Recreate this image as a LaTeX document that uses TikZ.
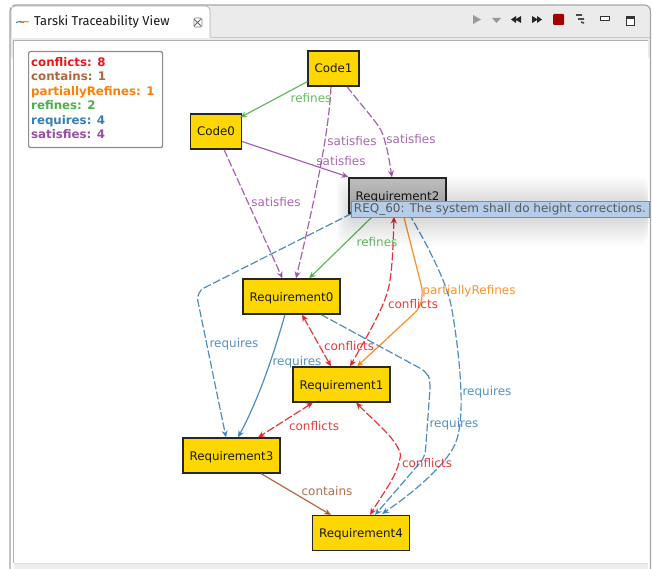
\documentclass[tikz,border=0pt]{standalone}
\usepackage{fontspec}
\setmainfont{DejaVu Sans}
\newfontfamily\tabfont{Fira Sans}
\usetikzlibrary{arrows.meta,calc}
\definecolor{cconf}{HTML}{E41A1C}
\definecolor{ccont}{HTML}{A65628}
\definecolor{cpart}{HTML}{FF7F00}
\definecolor{cref}{HTML}{4DAF4A}
\definecolor{creq}{HTML}{377EB8}
\definecolor{csat}{HTML}{984EA3}
\definecolor{cgold}{HTML}{FFD700}
\definecolor{ttfill}{HTML}{B5CDE8}
\definecolor{ttline}{HTML}{6A90CC}
\tikzset{
  artefact/.style={draw=black!85,line width=1.1pt,fill=cgold,minimum width=97pt,minimum height=35pt,inner sep=0pt,text depth=0pt,font=\fontsize{11.85}{13}\selectfont,text=black!90},
  codebox/.style={artefact,minimum width=51pt},
  relline/.style={line width=1.2pt,opacity=.88,-{Stealth[length=7pt,width=6pt]}},
  bothways/.style={line width=1.2pt,opacity=.88,{Stealth[length=7pt,width=6pt]}-{Stealth[length=7pt,width=6pt]},dash pattern=on 8pt off 2.5pt,color=cconf},
  dashrel/.style={dash pattern=on 8pt off 2.5pt},
  elabel/.style={font=\fontsize{12}{13}\selectfont,inner sep=0pt,opacity=.85},
}
\begin{document}
\begin{tikzpicture}[x=1pt,y=-1pt]
\useasboundingbox (0,0) rectangle (652,569);
\fill[white] (0,0) rectangle (652,569);
% window chrome
\fill[black!8,rounded corners=6pt] (10,5) rectangle (650,60);
\fill[white] (13.5,40) rectangle (648,563);
\fill[black!7] (13.5,563.5) rectangle (648,569);
\draw[black!12,line width=1pt] (13.5,563) -- (648,563);
\draw[black!22,line width=.8pt] (210,37.5) -- (650,37.5);
\draw[black!35,line width=1.2pt,rounded corners=6pt] (10,569) -- (10,5) -- (650.5,5) -- (650.5,569);
\fill[white] (11,6) rectangle (210,38);
\draw[black!30,line width=.8pt,rounded corners=4pt] (11,38) -- (11,6) -- (210,6) -- (210,37.5);
\draw[black!30,line width=.8pt] (13,40) -- (648,40) (13,40) -- (13,563);
% tab
\node[font=\tabfont\fontsize{12.9}{14}\selectfont,inner sep=0pt,anchor=west,text=black!90] (tabtitle) at (34,22) {Tarski Traceability View};
\draw[creq,line width=1pt] (16,22.5) -- (20,21.5) -- (24,22.5);
\draw[cpart,line width=1pt] (20,22.5) -- (25,21.5) -- (29,22);
\draw[black!60,line width=.9pt] (194,19) -- (201,26) (201,19) -- (194,26);
\draw[black!50,line width=.6pt,rounded corners=1pt] (194,18) rectangle (202,27);
% toolbar
\fill[black!40] (473,15) -- (481,19.5) -- (473,24) -- cycle;
\fill[black!40] (492,18) -- (501,18) -- (496.5,23) -- cycle;
\fill[black!85] (511,19.5) -- (516,16) -- (516,19) -- (521,16) -- (521,23) -- (516,20) -- (516,23) -- cycle;
\fill[black!85] (542,19.5) -- (537,16) -- (537,19) -- (532,16) -- (532,23) -- (537,20) -- (537,23) -- cycle;
\fill[red!65!black,rounded corners=1pt] (553,14) rectangle (564,25);
\draw[black!70,line width=1.6pt] (576,15) -- (582,15) (578,19) -- (584,19) (581,22) -- (584,23);
\fill[white,draw=black!80,line width=.9pt] (600,16.5) rectangle (609,20);
\fill[white,draw=black!80,line width=1pt] (626,17) rectangle (634,25.5);
\fill[black!80] (626,17) rectangle (634,19.5);
% legend
\node[draw=black!45,line width=1.2pt,rounded corners=2pt,fill=white,minimum width=134pt,minimum height=96pt,inner sep=0pt,anchor=north west] (legendbox) at (28,51) {};
\node[anchor=north west,inner sep=0pt,align=left,font=\bfseries\fontsize{11.8}{14.5}\selectfont] (legend) at (31,57) {%
 \textcolor{cconf}{conflicts: 8}\\
 \textcolor{ccont!90}{contains: 1}\\
 \textcolor{cpart}{partiallyRefines: 1}\\
 \textcolor{cref}{refines: 2}\\
 \textcolor{creq}{requires: 4}\\
 \textcolor{csat}{satisfies: 4}};
% nodes
\node[codebox] (code1) at (333.5,68.5) {Code1};
\node[codebox] (code0) at (216,131.5) {Code0};
\node[artefact,fill=black!24] (req2) at (397.5,195.5) {Requirement2};
\node[artefact] (req0) at (291.5,296.5) {Requirement0};
\node[artefact] (req1) at (341.5,384.5) {Requirement1};
\node[artefact] (req3) at (231.5,455.5) {Requirement3};
\node[artefact] (req4) at (361,533) {Requirement4};
% connectors
\draw[relline,cref] ([yshift=5pt]code1.south west) -- ([xshift=-2pt,yshift=32pt]code0.south east);
\draw[relline,csat,dashrel] ([xshift=-2.5pt]code1.south) .. controls (329,130) and (317,190) .. ([xshift=4.5pt]req0.north);
\draw[relline,csat,dashrel] ([xshift=13.5pt]code1.south) .. controls (365,110) and (380,125) .. (383,135) .. controls (388,150) and (390,165) .. ([xshift=-5.5pt]req2.north);
\draw[relline,csat] ([yshift=8pt]code0.south east) -- ([yshift=.5pt]req2.north west);
\draw[relline,csat,dashrel] ([xshift=8pt]code0.south) -- ([xshift=-9pt]req0.north);
\draw[relline,creq,dashrel,rounded corners=9pt] ([xshift=3pt]req2.south west) -- (196,292) -- ([xshift=-5.5pt]req3.north);
\draw[relline,cref] ([xshift=-22pt]req2.south) -- ([xshift=17.5pt]req0.north);
\draw[bothways] ([xshift=-3.5pt,yshift=-3pt]req2.south) .. controls (393,250) and (392,275) .. (388,290) .. controls (383,310) and (362,345) .. ([xshift=8.5pt]req1.north);
\draw[relline,cpart,rounded corners=7pt] ([xshift=5.5pt]req2.south) -- (423,292) -- (420,308) -- ([xshift=15.5pt]req1.north);
\draw[relline,creq,dashrel] ([xshift=11.5pt]req2.south) .. controls (430,250) and (448,285) .. (452,310) .. controls (458,345) and (462,385) .. (461,410) .. controls (460,430) and (458,440) .. (452,450) .. controls (440,470) and (410,495) .. ([xshift=21pt,yshift=1pt]req4.north);
\draw[relline,creq] ([xshift=-6.5pt]req0.south) .. controls (272,360) and (258,400) .. ([xshift=6.5pt]req3.north);
\draw[relline,creq,dashrel,rounded corners=7pt] ([xshift=29.5pt]req0.south) -- (427,372) -- (430.5,382) -- (425,457) -- ([xshift=14pt]req4.north);
\draw[bothways] ([xshift=10.5pt]req0.south) -- ([xshift=-10.5pt]req1.north);
\draw[bothways] ([xshift=-28.5pt]req1.south) -- ([xshift=26.5pt]req3.north);
\draw[bothways] ([xshift=14.5pt]req1.south) .. controls (375,422) and (398,440) .. (400.5,455) .. controls (398,475) and (385,490) .. ([xshift=9pt]req4.north);
\draw[relline,ccont] ([xshift=29.5pt]req3.south) -- ([xshift=-30pt]req4.north);
% connector labels
\node[elabel,text=cref] (lr1) at (311,98) {refines};
\node[elabel,text=csat] (ls1) at (352,141) {satisfies};
\node[elabel,text=csat] (ls2) at (411,139) {satisfies};
\node[elabel,text=csat] (ls3) at (341,161) {satisfies};
\node[elabel,text=csat] (ls4) at (276,202) {satisfies};
\node[elabel,text=creq] (lq1) at (234,344) {requires};
\node[elabel,text=cref] (lr2) at (377,242) {refines};
\node[elabel,text=cconf] (lc1) at (413,304) {conflicts};
\node[elabel,text=cpart] (lp) at (469,291) {partiallyRefines};
\node[elabel,text=creq] (lq2) at (297,362) {requires};
\node[elabel,text=cconf] (lc2) at (349,346) {conflicts};
\node[elabel,text=creq] (lq3) at (487,392) {requires};
\node[elabel,text=cconf] (lc3) at (314,426) {conflicts};
\node[elabel,text=creq] (lq4) at (454,424) {requires};
\node[elabel,text=cconf] (lc4) at (427,463) {conflicts};
\node[elabel,text=ccont] (lk) at (327,491) {contains};
% tooltip shadow
\foreach \g in {0,3,...,27}{
  \fill[black,opacity=.014,rounded corners=8pt] (350-\g/2,204-\g) rectangle (648,218+\g);
}
\node[draw=ttline,line width=.8pt,fill=ttfill,text=black!65,font=\fontsize{12}{13}\selectfont,inner sep=0pt,minimum width=298pt,minimum height=15pt,anchor=north west] (tip) at (350.5,201.5) {REQ\_60: The system shall do height corrections.};
\end{tikzpicture}
\end{document}
